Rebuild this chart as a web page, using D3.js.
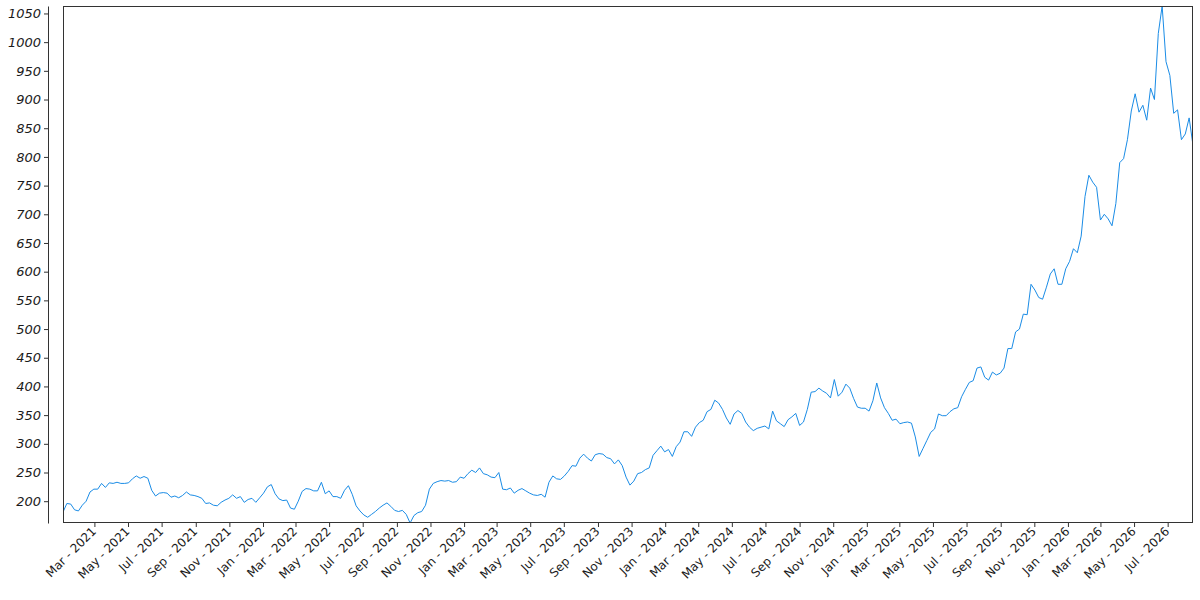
<!DOCTYPE html>
<html>
<head>
<meta charset="utf-8">
<script src="https://cdn.jsdelivr.net/npm/d3@7"></script>
<style>
  html, body { margin: 0; padding: 0; background: #fff; }
  svg { display: block; }
</style>
</head>
<body>
<svg id="chart" width="1200" height="600"></svg>
<script>
// weekly closes, first week starts on this date
const firstWeek = "2021-01-03";

const close2021 = [181, 196, 195, 185, 183, 193, 200, 216, 221, 221, 231, 224, 232, 231, 233, 231, 231, 232, 239, 244,
  240, 243, 240, 219, 209, 214, 215, 214, 207, 209, 206, 210, 216, 211, 210, 208, 205, 196, 197, 193,
  192, 198, 202, 205, 211, 205, 208, 198, 203, 205, 198, 206];
const close2022 = [214, 225, 229, 213, 204, 201, 202, 188, 186, 200, 217, 222, 221, 218, 218, 233, 213, 218, 208, 208,
  205, 219, 227, 212, 192, 183, 176, 172, 177, 182, 188, 193, 197, 191, 184, 182, 184, 177, 162, 175,
  180, 182, 193, 221, 231, 234, 236, 235, 236, 233, 234, 242];
const close2023 = [240, 248, 254, 250, 258, 248, 246, 242, 241, 250, 221, 220, 223, 214, 219, 222, 218, 214, 211, 210,
  212, 207, 233, 244, 239, 238, 244, 252, 262, 261, 275, 282, 275, 270, 281, 283, 282, 276, 274, 265,
  272, 262, 242, 228, 235, 248, 250, 255, 258, 280, 288, 296, 286];
const close2024 = [290, 278, 295, 303, 321, 321, 313, 329, 337, 341, 356, 360, 376, 371, 360, 345, 334, 352, 358, 353,
  338, 329, 323, 327, 329, 331, 326, 357, 340, 335, 330, 342, 347, 353, 332, 338, 360, 390, 391, 397,
  392, 388, 380, 412, 383, 390, 404, 397, 379, 364, 362, 362];
const close2025 = [357, 375, 406, 380, 363, 353, 341, 343, 335, 337, 338, 336, 312, 278, 292, 306, 320, 326, 352, 349,
  349, 356, 361, 363, 382, 395, 407, 410, 432, 434, 416, 411, 425, 420, 423, 432, 466, 466, 495, 500,
  526, 525, 578, 568, 555, 552, 573, 596, 605, 578, 578, 605];
const close2026 = [618, 640, 633, 662, 731, 768, 756, 747, 690, 700, 692, 680, 719, 790, 797, 830, 880, 910, 878, 890,
  864, 920, 900, 1015, 1063, 966, 942, 876, 882, 830, 840, 868, 820];

const yTicks = d3.range(200, 1051, 50);

const closes = [].concat(close2021, close2022, close2023, close2024, close2025, close2026);
const start = d3.timeParse("%Y-%m-%d")(firstWeek);
const data = closes.map((v, i) => ({ date: d3.timeDay.offset(start, i * 7), value: v }));

const margin = { top: 6, right: 7, bottom: 77, left: 63 };
const width = 1200, height = 600;
const inkColor = "#1a1a1a";
const labelFont = "'DejaVu Sans', sans-serif";

const svg = d3.select("#chart");

const x = d3.scaleTime()
  .domain(d3.extent(data, d => d.date))
  .range([margin.left, width - margin.right]);

const y = d3.scaleLinear()
  .domain(d3.extent(data, d => d.value))
  .range([height - margin.bottom, margin.top]);

svg.append("clipPath").attr("id", "plot-clip")
  .append("rect")
  .attr("x", margin.left)
  .attr("y", margin.top)
  .attr("width", width - margin.left - margin.right)
  .attr("height", height - margin.top - margin.bottom);

const line = d3.line()
  .x(d => x(d.date))
  .y(d => y(d.value));

svg.append("path")
  .datum(data)
  .attr("clip-path", "url(#plot-clip)")
  .attr("fill", "none")
  .attr("stroke", "#1a8ce6")
  .attr("stroke-width", 1)
  .attr("stroke-linejoin", "round")
  .attr("d", line);

// frame round the plot
svg.append("rect")
  .attr("x", margin.left + 0.5)
  .attr("y", margin.top + 0.5)
  .attr("width", width - margin.left - margin.right - 1)
  .attr("height", height - margin.top - margin.bottom - 1)
  .attr("fill", "none")
  .attr("stroke", "#333")
  .attr("stroke-width", 1);

// x axis
const xAxis = svg.append("g")
  .attr("transform", `translate(0,${height - margin.bottom})`)
  .call(d3.axisBottom(x)
    .ticks(d3.timeMonth.every(2))
    .tickFormat(d3.timeFormat("%b - %Y"))
    .tickSize(4)
    .tickSizeOuter(0))
  .attr("font-family", labelFont)
  .attr("font-size", 12);

xAxis.select(".domain").remove();
xAxis.selectAll(".tick line").attr("stroke", "#333");
xAxis.selectAll(".tick text")
  .attr("x", 0)
  .attr("y", 0)
  .attr("dy", null)
  .attr("transform", "translate(2,9) rotate(-45)")
  .attr("text-anchor", "end")
  .attr("fill", inkColor);

// y axis, set off to the left of the frame
const yAxis = svg.append("g")
  .attr("transform", `translate(${margin.left - 15},0)`)
  .call(d3.axisLeft(y)
    .tickValues(yTicks)
    .tickFormat(d3.format("d"))
    .tickSize(4)
    .tickSizeOuter(0))
  .attr("font-family", labelFont)
  .attr("font-size", 13);

yAxis.select(".domain").attr("stroke", "#333");
yAxis.selectAll(".tick line").attr("stroke", "#333");
yAxis.selectAll(".tick text")
  .attr("fill", inkColor)
  .attr("font-style", "italic");
</script>
</body>
</html>
